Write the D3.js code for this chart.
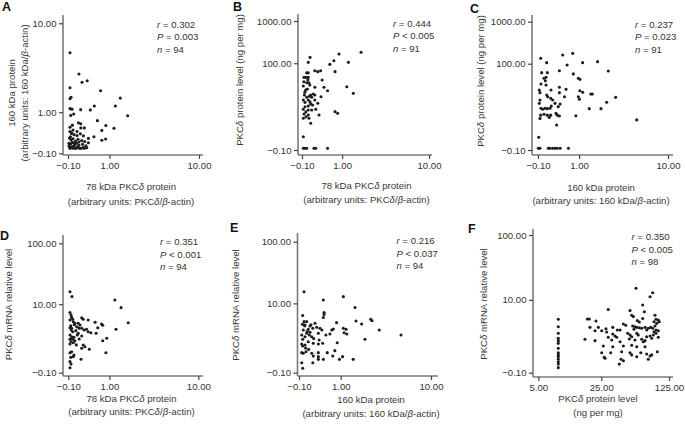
<!DOCTYPE html>
<html><head><meta charset="utf-8">
<script src="https://cdn.jsdelivr.net/npm/d3@7"></script>
<style>
html,body{margin:0;padding:0;background:#fff;}
svg{display:block;font-family:"Liberation Sans",Arial,Helvetica,sans-serif;}
</style></head>
<body><svg id="chart" width="685" height="427"></svg>
<script>
// ---------- tick labels ----------
const ticksProtein = [-0.1, 1, 10];
const ticksNg = [-0.1, 100, 1000];
const ticksMrna = [-0.1, 10, 100];
const ticksNgLevel = [5, 25, 125];

// ---------- stats ----------
const statsA = ["0.302", "=", "0.003", "94"];
const statsB = ["0.444", "<", "0.005", "91"];
const statsC = ["0.237", "=", "0.023", "91"];
const statsD = ["0.351", "<", "0.001", "94"];
const statsE = ["0.216", "<", "0.037", "94"];
const statsF = ["0.350", "<", "0.005", "98"];

// ---------- data: [x, y] ----------
const dataA = [[-0.059,5.26],[0.12,3.16],[0.187,2.55],[0.31,2.66],[-0.059,2.20],[0.69,2.02],[-0.039,1.66],[-0.059,1.59],
[1.46,1.62],[1.24,1.25],[0.50,1.25],[0.39,1.09],[0.157,1.10],[-0.059,1.14],[-0.019,1.12],[0.013,0.93],[-0.044,0.88],
[1.83,0.87],[0.59,0.70],[0.87,0.55],[0.73,0.41],[1.18,0.47],[0.11,0.63],[0.16,0.60],[-0.013,0.56],[-0.059,0.50],
[0.16,0.48],[0.24,0.48],[0.08,0.38],[-0.025,0.35],[0.49,0.25],[0.34,0.21],[0.86,0.196],[0.73,0.167],[0.34,0.114],
[-0.06,0.38],[-0.03,0.33],[0.02,0.30],[0.08,0.28],[0.15,0.32],[0.22,0.27],
[-0.07,0.22],[-0.04,0.18],[0.0,0.20],[0.05,0.15],[0.10,0.19],[0.18,0.16],[0.25,0.14],
[-0.08,0.10],[-0.05,0.08],[-0.02,0.12],[0.03,0.07],[0.07,0.10],[0.12,0.06],[0.20,0.08],[0.28,0.05],
[-0.07,0.03],[-0.04,0.02],[0.0,0.04],[0.04,0.01],[0.09,0.03],[0.14,0.0],[0.22,0.02],[0.30,0.01],
[-0.06,0.0],[-0.03,0.01],[0.01,0.0],[0.06,0.0],[0.11,0.01],[0.17,0.0],[0.24,0.0],
[-0.08,0.05],[0.02,0.11],[0.12,0.13],[-0.05,0.25],[0.0,0.42]];

const dataB = [[1.90,182],[0.88,166],[1.26,105],[0.064,138],[0.028,105],[0.57,94],[0.70,115],[0.74,63],[0.17,66],
[0.24,63],[0.31,66],[-0.003,59],[0.028,59],[-0.058,46],[-0.017,46],[0.028,46],[0.35,39.7],[-0.003,34],[0.043,34],
[-0.072,28.3],[0.17,26.4],[0.40,26.4],[1.19,27.2],[-0.023,22.6],[0.50,21.7],[1.49,18.7],[-0.05,17],[0.078,17],
[0.135,18],[0.17,17],[-0.003,14.9],[0.32,15.4],[0.10,14.9],[-0.072,12.7],[0.028,12.7],[0.064,11.5],[0.17,12.7],
[-0.037,11.1],[0.078,10],[0.24,10.5],[0.028,8.9],[-0.037,8.5],[-0.072,7.3],[0.028,7.0],[0.10,7.0],[0.19,7.3],
[0.74,6.3],[0.83,5.7],[0.27,5.1],[-0.058,5.4],[-0.017,4.5],[0.028,5.1],[-0.072,4.1],[0.043,4.1],[0.078,2.9],
[-0.072,0.87],[-0.072,0],[-0.037,0],[-0.003,0],[0.15,0],[0.19,0],[0.50,0],
[-0.04,20],[0.01,24],[0.06,30],[-0.06,36],[0.12,9.5],[-0.02,6.2],[0.05,15.8],[0.02,40]];

const dataC = [[0.46,162],[0.77,177],[-0.045,135],[0.074,106],[0.59,93],[1.14,106],[1.85,112],[2.50,67],[0.37,68],
[-0.025,61],[0.087,61],[0.79,57],[0.02,44.5],[0.06,47],[0.046,39],[0.97,44.5],[1.03,42],[-0.039,32.4],[0.06,30.6],
[0.37,26.9],[0.556,24],[0.37,19.8],[0.167,23],[-0.073,23],[-0.059,19.8],[1.03,22.1],[1.14,20.2],[1.50,18.3],
[1.58,18.3],[0.074,17.3],[0.095,15.7],[0.16,14.3],[0.51,15.7],[0.97,15.7],[1.01,13.5],[3.03,15.1],[-0.059,12.9],
[-0.073,10.6],[0.205,12.9],[0.26,10.6],[0.173,9.0],[2.39,11.3],[0.39,10.2],[0.34,8.7],[-0.039,7.9],[-0.005,7.4],
[0.04,7.9],[0.087,7.7],[0.144,7.9],[1.43,7.7],[2.04,7.7],[-0.045,5.1],[0.02,5.4],[0.087,5.1],[0.16,5.1],[0.316,5.1],
[0.284,5.7],[0.37,4.8],[0.88,4.9],[-0.059,4.1],[0.129,4.4],[5.04,3.7],[0.30,2.56],[-0.085,0.82],
[-0.094,0],[-0.059,0],[0.108,0],[0.144,0],[0.205,0],[0.26,0],[0.316,0],[0.39,0],[0.63,0]];

const dataD = [[-0.065,16.3],[-0.025,13.5],[1.22,11.8],[1.50,8.7],[1.87,4.6],[1.27,3.41],
[-0.065,7.1],[-0.044,6.4],[-0.031,5.8],[-0.065,5.2],[-0.011,5.35],[0.176,5.7],[0.21,5.35],[0.33,5.2],
[0.52,4.7],[0.72,4.35],[0.60,3.68],[0.76,4.1],[0.0,4.8],[0.034,4.5],[0.10,4.5],[0.138,4.16],[0.068,3.85],
[-0.065,3.68],[-0.031,3.58],[-0.011,3.04],[0.176,3.58],[0.23,3.30],[0.29,3.41],[0.33,3.04],
[0.40,2.90],[0.55,2.82],[0.10,2.82],[0.176,2.46],[0.90,2.18],[0.76,1.91],
[-0.065,2.59],[-0.031,2.37],[-0.065,2.07],[-0.011,2.07],[0.014,2.30],[-0.044,1.81],[0.0,1.71],[-0.065,1.58],
[0.21,1.49],[0.176,1.21],[0.36,1.13],[0.25,1.34],[0.87,0.88],
[-0.065,0.88],[-0.031,0.95],[0.014,0.73],[-0.050,0.59],[0.0,0.63],[0.16,0.48],
[-0.065,0.36],[-0.044,0.25],[-0.065,0.09],
[-0.05,4.0],[0.05,3.2],[0.12,3.6],[-0.02,2.2],[0.03,1.9],[0.08,2.6],[0.02,4.2],[-0.04,3.3],[0.06,1.5],[0.12,2.1]];

const dataE = [[0.0,15.7],[1.10,13.0],[0.44,11.4],[1.62,8.5],[0.46,6.9],[0.46,6.4],[0.44,5.6],[-0.026,6.1],
[2.52,5.2],[2.61,4.9],[1.67,4.84],[1.97,4.24],[3.14,3.22],[5.24,2.53],[2.16,2.02],
[0.85,4.5],[0.69,3.22],[0.63,2.66],[0.74,3.38],[1.10,3.49],[1.21,3.33],[1.13,2.83],[1.24,2.66],
[0.0,4.7],[0.051,4.7],[0.018,4.05],[0.119,3.87],[0.23,4.37],[0.18,3.49],[0.083,3.33],
[0.27,3.65],[0.35,3.49],[0.40,3.22],[0.31,2.75],
[-0.014,3.22],[-0.045,2.53],[0.018,2.32],[-0.026,2.02],[0.051,2.75],[0.104,2.53],[0.156,2.32],
[0.51,2.53],[0.33,1.95],[0.31,1.55],[0.42,1.62],[0.87,1.67],
[-0.045,1.55],[0.018,1.46],[-0.026,1.37],[0.083,1.77],[0.19,1.62],
[0.79,1.01],[0.55,0.87],[0.72,0.66],
[-0.045,0.87],[-0.014,0.83],[0.038,0.93],[0.156,0.83],[0.19,0.66],[0.31,0.62],[0.44,0.47],[0.31,0.87],
[0.95,0.47],[1.07,0.62],[1.53,0.47],[0.18,0.30],[0.31,0.47],[-0.045,0.30],[-0.026,0.065],
[0.01,3.9],[0.06,3.0],[0.12,2.9],[0.03,1.2],[0.09,1.1],[0.14,4.1],[0.2,2.1],[-0.03,4.2]];

const dataF = [[8.56,4.65],[8.56,3.38],[8.56,2.50],[8.56,1.95],[8.56,1.72],[8.56,1.48],[8.56,1.09],[8.56,0.80],
[8.56,0.67],[8.56,0.57],[8.56,0.44],[8.56,0.32],[8.56,0.22],[8.56,0.08],
[57.4,15.3],[85.2,13.0],[80.0,11.2],[67.3,8.2],[29.6,6.9],[49.8,6.6],[51.8,5.5],[53.9,5.2],[69.9,6.3],
[17.8,4.7],[18.7,4.7],[22.0,4.33],[89.9,5.5],[92.1,4.65],[87.9,4.2],[93.6,3.92],[97.2,4.5],[99.5,4.2],
[67.3,4.8],[59.2,4.4],[62.1,4.15],[42.5,3.81],[45.0,3.6],
[89.9,3.49],[85.2,3.15],[81.3,3.29],[92.1,2.92],[97.2,2.82],[87.9,2.69],
[53.1,3.49],[56.0,3.38],[58.4,3.29],[54.7,3.01],[62.1,3.24],[65.7,3.15],[71.1,3.29],[73.9,2.92],[76.8,3.15],
[19.0,3.29],[23.3,3.29],[28.0,3.09],[33.0,3.29],[36.8,2.92],[39.3,2.92],[21.5,2.82],[25.3,2.82],[28.5,2.66],
[33.0,2.42],[34.8,2.19],[36.3,2.05],[29.6,2.05],[47.1,2.50],[49.8,2.30],[51.8,2.11],[58.4,2.50],[60.6,2.30],
[73.9,2.11],[80.0,2.19],[86.4,2.30],[97.2,2.05],[92.1,2.50],
[16.8,1.85],[21.5,1.72],[32.2,1.78],[39.3,1.62],[49.0,1.88],[56.0,1.78],[65.7,1.85],[71.1,1.72],[83.2,1.95],
[26.3,1.27],[33.0,1.21],[42.5,1.27],[51.8,1.32],[58.4,1.21],[71.1,1.21],[68.3,1.62],
[25.3,0.80],[31.4,0.80],[40.8,0.86],[49.8,0.80],[64.2,0.80],[73.9,0.72],[80.0,0.61],[83.2,0.67],
[58.4,0.57],[95.0,0.86],[26.9,0.54],[40.2,0.44],[76.8,0.44],[27.4,0.49],[42.5,0.37],[51.8,0.67],[38.6,0.22]];

// ---------- titles ----------
const titles = {
  x78: [[["78 kDa PKC",0],["δ",1],[" protein",0]], [["(arbitrary units: PKC",0],["δ",1],["/",0],["β",1],["-actin)",0]]],
  x160: [[["160 kDa protein",0]], [["(arbitrary units: 160 kDa/",0],["β",1],["-actin)",0]]],
  xNg: [[["PKC",0],["δ",1],[" protein level",0]], [["(ng per mg)",0]]],
  y160: [[["160 kDa protein",0]], [["(arbitrary units: 160 kDa/",0],["β",1],["-actin)",0]]],
  yNg: [[["PKC",0],["δ",1],[" protein level (ng per mg)",0]]],
  yMrna: [[["PKC",0],["δ",1],[" mRNA relative level",0]]]
};

// ---------- layout ----------
const panels = [
  {letter:"A", lx:2, ly:10.5, data:dataA, xt:ticksProtein, yt:ticksProtein, xFmt:".2f",
   ax:63, xr:[68,199], xEnd:203, ay:155, yr:[153.3,23.3], yTop:15,
   stats:statsA, sx:157, sy:24.5, xTitle:titles.x78, xtx:131, xty:[187,201.5], yTitle:titles.y160, ytx:[12,25], yty:93},
  {letter:"B", lx:233, ly:10.5, data:dataB, xt:ticksProtein, yt:ticksNg, xFmt:".2f",
   ax:298, xr:[302,429], xEnd:432, ay:155, yr:[150,21], yTop:14,
   stats:statsB, sx:393, sy:23.5, xTitle:titles.x78, xtx:366.5, xty:[185.5,199.5], yTitle:titles.yNg, ytx:[240], yty:80},
  {letter:"C", lx:470, ly:12.5, data:dataC, xt:ticksProtein, yt:ticksNg, xFmt:".2f",
   ax:532, xr:[538,668], xEnd:673, ay:155, yr:[150,21.7], yTop:15,
   stats:statsC, sx:635, sy:24.5, xTitle:titles.x160, xtx:601, xty:[188,201], yTitle:titles.yNg, ytx:[481], yty:81},
  {letter:"D", lx:0, ly:240, data:dataD, xt:ticksProtein, yt:ticksMrna, xFmt:".2f",
   ax:63, xr:[68.3,198.3], xEnd:203, ay:376, yr:[372.7,243.3], yTop:235,
   stats:statsD, sx:160, sy:242, xTitle:titles.x78, xtx:131.5, xty:[398.5,412], yTitle:titles.yMrna, ytx:[9], yty:304.5},
  {letter:"E", lx:230, ly:232, data:dataE, xt:ticksProtein, yt:ticksMrna, xFmt:".2f",
   ax:297.5, xr:[299,431], xEnd:438, ay:376, yr:[372.7,241.7], yTop:233,
   stats:statsE, sx:396.5, sy:241, xTitle:titles.x160, xtx:371, xty:[399.5,414], yTitle:titles.yMrna, ytx:[236], yty:305},
  {letter:"F", lx:468, ly:233, data:dataF, xt:ticksNgLevel, yt:ticksMrna, xFmt:".2f",
   ax:533, xr:[538.3,669], xEnd:673, ay:377, yr:[372.7,235], yTop:229,
   stats:statsF, sx:631.5, sy:237, xTitle:titles.xNg, xtx:598, xty:[398.5,412.5], yTitle:titles.yMrna, ytx:[484], yty:304}
];

const svg = d3.select("#chart");
const FS = 9.6;
const axisColor = "#7a7a7a";
const textColor = "#333";

function addRich(sel, segs) {
  segs.forEach(([t, it]) => {
    const ts = sel.append("tspan").text(t);
    if (it) ts.attr("font-style", "italic");
  });
}

panels.forEach(p => {
  const x = d3.scaleSymlog().constant(1).domain([p.xt[0], p.xt[p.xt.length-1]]).range(p.xr);
  const y = d3.scaleSymlog().constant(1).domain([p.yt[0], p.yt[p.yt.length-1]]).range(p.yr);
  const g = svg.append("g");

  // axis lines
  g.append("line").attr("x1", p.ax).attr("x2", p.ax).attr("y1", p.yTop).attr("y2", p.ay)
    .attr("stroke", axisColor).attr("stroke-width", 1.6);
  g.append("line").attr("x1", p.ax).attr("x2", p.xEnd).attr("y1", p.ay).attr("y2", p.ay)
    .attr("stroke", axisColor).attr("stroke-width", 1.6);

  // axes (ticks + labels)
  const xAxis = d3.axisBottom(x).tickValues(p.xt).tickFormat(d3.format(p.xFmt)).tickSize(4).tickPadding(3).tickSizeOuter(0);
  const gx = g.append("g").attr("transform", `translate(0,${p.ay})`).call(xAxis);
  const yAxis = d3.axisLeft(y).tickValues(p.yt).tickFormat(d3.format(".2f")).tickSize(4).tickPadding(2.5).tickSizeOuter(0);
  const gy = g.append("g").attr("transform", `translate(${p.ax},0)`).call(yAxis);
  [gx, gy].forEach(a => {
    a.select(".domain").remove();
    a.selectAll(".tick line").attr("stroke", "#444").attr("stroke-width", 1.2);
    a.selectAll(".tick text").attr("fill", textColor).attr("font-size", FS)
      .attr("font-family", '"Liberation Sans", Arial, sans-serif');
  });

  // points
  g.append("g").selectAll("circle").data(p.data).join("circle")
    .attr("cx", d => x(d[0])).attr("cy", d => y(d[1])).attr("r", 1.55).attr("fill", "#1c1c1c");

  // stats
  const st = p.stats;
  const lines = [[["r",1],[" = " + st[0],0]], [["P",1],[" " + st[1] + " " + st[2],0]], [["n",1],[" = " + st[3],0]]];
  lines.forEach((segs, i) => {
    const t = g.append("text").attr("x", p.sx).attr("y", p.sy + i * 12.4 + 3.4)
      .attr("font-size", FS).attr("fill", textColor);
    addRich(t, segs);
  });

  // x title
  p.xTitle.forEach((segs, i) => {
    const t = g.append("text").attr("x", p.xtx).attr("y", p.xty[i] + 3.4).attr("text-anchor", "middle")
      .attr("font-size", FS).attr("fill", "#3a3a3a");
    addRich(t, segs);
  });

  // y title
  p.yTitle.forEach((segs, i) => {
    const t = g.append("text").attr("transform", `translate(${p.ytx[i]},${p.yty}) rotate(-90)`)
      .attr("text-anchor", "middle").attr("dy", "0.35em")
      .attr("font-size", FS).attr("fill", "#3a3a3a");
    addRich(t, segs);
  });

  // panel letter
  g.append("text").attr("x", p.lx).attr("y", p.ly).text(p.letter)
    .attr("font-size", 12.5).attr("font-weight", "bold").attr("fill", "#111")
    .attr("font-family", '"Liberation Sans", Arial, sans-serif');
});
</script>
</body></html>
